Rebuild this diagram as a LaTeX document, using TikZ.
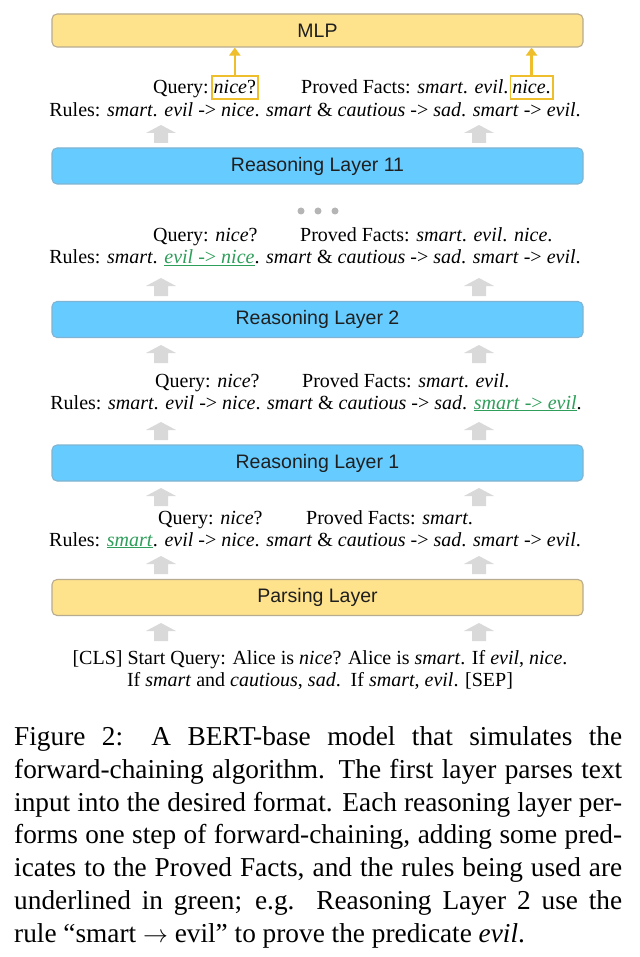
\documentclass[tikz,border=0pt]{standalone}
\usepackage{fontspec}
\setmainfont{Liberation Serif}
\setsansfont{Liberation Sans}
\usetikzlibrary{arrows.meta}
\definecolor{boxyellow}{HTML}{FFE28C}
\definecolor{boxyellowedge}{HTML}{B8AC90}
\definecolor{boxblue}{HTML}{66CCFF}
\definecolor{boxblueedge}{HTML}{80B4D2}
\definecolor{arrowgray}{HTML}{D9D9D9}
\definecolor{dotgray}{HTML}{B5B5B5}
\definecolor{gold}{HTML}{EEBE2C}
\definecolor{rulegreen}{HTML}{2E9E5A}
\newcommand{\usedrule}[1]{\textcolor{rulegreen}{\underline{#1}}}
\tikzset{
  layerbox/.style={draw, rounded corners=5pt, line width=1.1pt, minimum width=531pt,
    minimum height=36pt, inner sep=0pt, font=\sffamily\fontsize{19.5}{22}\selectfont, text=black!88},
  ybox/.style={layerbox, fill=boxyellow, draw=boxyellowedge},
  bbox/.style={layerbox, fill=boxblue, draw=boxblueedge},
  txt/.style={inner sep=0pt, font=\fontsize{20}{22}\selectfont},
  hl/.style={txt, draw=gold, line width=1.6pt, inner xsep=2pt, inner ysep=3pt, text height=15pt, text depth=2pt},
  goldarrow/.style={draw=gold, line width=2.6pt, -{Triangle[length=8pt,width=11pt]}},
  graybar/.pic={\fill[arrowgray] (-7,18) -- (-7,8) -- (-15,8) -- (0,0) -- (15,8) -- (7,8) -- (7,18) -- cycle;}
}
\begin{document}
\begin{tikzpicture}[x=1pt,y=-1pt]
\fill[white] (0,0) rectangle (639,957);
\useasboundingbox (0,0) rectangle (639,957);

% layer boxes
\node[ybox, minimum height=33pt] (mlp) at (317.5,30.5) {MLP};
\node[bbox] (rl11) at (317.5,166) {Reasoning Layer 11};
\node[bbox] (rl2) at (317.5,319.5) {Reasoning Layer 2};
\node[bbox] (rl1) at (317.5,463) {Reasoning Layer 1};
\node[ybox] (parse) at (317.5,597.5) {Parsing Layer};

% gray block arrows
\foreach \yy in {125,278,345,422,488,556,623}{
  \pic at (161,\yy) {graybar};
  \pic at (479,\yy) {graybar};
}

% dots
\fill[dotgray] (301,211) circle (3.5pt);
\fill[dotgray] (318,211) circle (3.5pt);
\fill[dotgray] (335,211) circle (3.5pt);

% group 1 (after layer 11)
\node[txt, anchor=base west] (q1) at (153,94) {Query:};
\node[hl, anchor=base west] (q1n) at ([xshift=2pt]q1.base east) {\textit{nice}?};
\node[txt, anchor=base west] (p1) at (301,94) {Proved Facts: \textit{smart}. \textit{evil}.};
\node[hl, anchor=base west] (p1n) at ([xshift=1pt]p1.base east) {\textit{nice}.};
\node[txt, anchor=base] (r1) at (315,117) {Rules: \textit{smart}. \textit{evil} -> \textit{nice}. \textit{smart} \& \textit{cautious} -> \textit{sad}. \textit{smart} -> \textit{evil}.};
\draw[goldarrow] (q1n.north) -- (q1n.north |- mlp.south);
\draw[goldarrow] (p1n.north) -- (p1n.north |- mlp.south);

% group 2 (after layer 2)
\node[txt, anchor=base west] (q2) at (153,242) {Query: \textit{nice}?};
\node[txt, anchor=base west] (p2) at (300,242) {Proved Facts: \textit{smart}. \textit{evil}. \textit{nice}.};
\node[txt, anchor=base] (r2) at (315,264) {Rules: \textit{smart}. \usedrule{\textit{evil} -> \textit{nice}}. \textit{smart} \& \textit{cautious} -> \textit{sad}. \textit{smart} -> \textit{evil}.};

% group 3 (after layer 1)
\node[txt, anchor=base west] (q3) at (155,387) {Query: \textit{nice}?};
\node[txt, anchor=base west] (p3) at (302,387) {Proved Facts: \textit{smart}. \textit{evil}.};
\node[txt, anchor=base] (r3) at (316,409) {Rules: \textit{smart}. \textit{evil} -> \textit{nice}. \textit{smart} \& \textit{cautious} -> \textit{sad}. \usedrule{\textit{smart} -> \textit{evil}}.};

% group 4 (after parsing)
\node[txt, anchor=base west] (q4) at (158,524) {Query: \textit{nice}?};
\node[txt, anchor=base west] (p4) at (306,524) {Proved Facts: \textit{smart}.};
\node[txt, anchor=base] (r4) at (315,546) {Rules: \usedrule{\textit{smart}}. \textit{evil} -> \textit{nice}. \textit{smart} \& \textit{cautious} -> \textit{sad}. \textit{smart} -> \textit{evil}.};

% input
\node[txt, anchor=base] (in1) at (320,664) {[CLS] Start Query: Alice is \textit{nice}? Alice is \textit{smart}. If \textit{evil}, \textit{nice}.};
\node[txt, anchor=base] (in2) at (320,686) {If \textit{smart} and \textit{cautious}, \textit{sad}.\ \ If \textit{smart}, \textit{evil}. [SEP]};

% caption
\node[anchor=north west, text width=608pt, align=justify, inner sep=0pt,
  font=\fontsize{27.3}{32.8}\selectfont] (cap) at (14,726.4)
  {\tolerance=9999\emergencystretch=30pt\hyphenpenalty=10000
  Figure 2: A BERT-base model that simulates the\linebreak
  forward-chaining algorithm. The first layer parses text\linebreak
  input into the desired format. Each reasoning layer per-\linebreak
  forms one step of forward-chaining, adding some pred-\linebreak
  icates to the Proved Facts, and the rules being used are\linebreak
  underlined in green; e.g.\ \ Reasoning Layer 2 use the\linebreak
  rule ``smart $\rightarrow$ evil'' to prove the predicate \textit{evil}.};
\end{tikzpicture}
\end{document}
